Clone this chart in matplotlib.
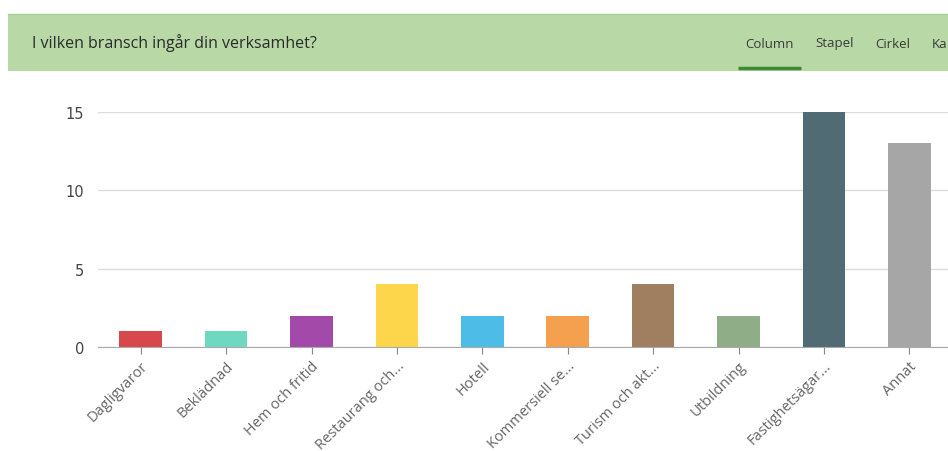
"""
Column chart: I vilken bransch ingår din verksamhet?
"""

import matplotlib
import matplotlib.pyplot as plt
from matplotlib.patches import Rectangle
from matplotlib.lines import Line2D

# Use non-interactive backend for headless systems
matplotlib.use('Agg')

# Survey answers
categories = [
    "Dagligvaror", "Beklädnad", "Hem och fritid", "Restaurang och...",
    "Hotell", "Kommersiell se...", "Turism och akt...", "Utbildning",
    "Fastighetsägar...", "Annat",
]
counts = [1, 1, 2, 4, 2, 2, 4, 2, 15, 13]
bar_colors = [
    "#d8474b", "#6fd8c0", "#a349aa", "#fdd64c", "#4dbde7",
    "#f5a04f", "#a07f60", "#8fad86", "#516b74", "#a6a6a6",
]
y_ticks = [0, 5, 10, 15]
title = "I vilken bransch ingår din verksamhet?"
tabs = ["Column", "Stapel", "Cirkel", "Ka"]
tab_x = [745, 815, 875, 932]

W, H = 948, 452
fig = plt.figure(figsize=(W / 100, H / 100), dpi=100)
fig.patch.set_facecolor("white")


def px(x, y):
    """Pixel coords (top-left origin) to figure fraction."""
    return x / W, 1 - y / H


# Header band
x0, y0 = px(8, 72)
fig.patches.append(Rectangle((x0, y0), 1 - x0, 57 / H, transform=fig.transFigure,
                             facecolor="#b8d9a6", edgecolor="none", zorder=0))
fig.lines.append(Line2D([x0, 1], [px(0, 15)[1]] * 2, transform=fig.transFigure,
                        color="#a9cc98", lw=1))
tx, ty = px(32, 43)
fig.text(tx, ty, title, fontsize=11.5, family="Open Sans", color="#2b2b2b",
         va="center", ha="left")
for label, x in zip(tabs, tab_x):
    lx, ly = px(x, 44)
    fig.text(lx, ly, label, fontsize=9.5, family="Open Sans", color="#3a3a3a",
             va="center", ha="left")
ux0, uy = px(738, 69)
ux1, _ = px(801, 69)
fig.lines.append(Line2D([ux0, ux1], [uy, uy], transform=fig.transFigure,
                        color="#3d8b37", lw=2.5, solid_capstyle="butt"))

# Chart area
left, bottom = px(98, 348)
ax = fig.add_axes([left, bottom, 854 / W, 235 / H])
x = range(len(categories))
ax.bar(x, counts, width=0.5, color=bar_colors, zorder=2)
ax.set_xlim(-0.5, len(categories) - 0.5)
ax.set_ylim(0, 15)
ax.set_yticks(y_ticks)
ax.set_xticks(list(x))
ax.set_xticklabels(categories, rotation=45, ha="right", rotation_mode="anchor",
                   fontsize=10.5, family="Open Sans", color="#666666")
ax.tick_params(axis="x", length=5, color="#888888", pad=3)
ax.tick_params(axis="y", length=0, labelsize=10.5, labelcolor="#444444", pad=10)
ax.grid(axis="y", color="#dddddd", lw=1, zorder=0)
for s in ["top", "right", "left"]:
    ax.spines[s].set_visible(False)
ax.spines["bottom"].set_color("#aaaaaa")
ax.set_facecolor("none")

plt.savefig("out.png", dpi=100)
plt.close()
